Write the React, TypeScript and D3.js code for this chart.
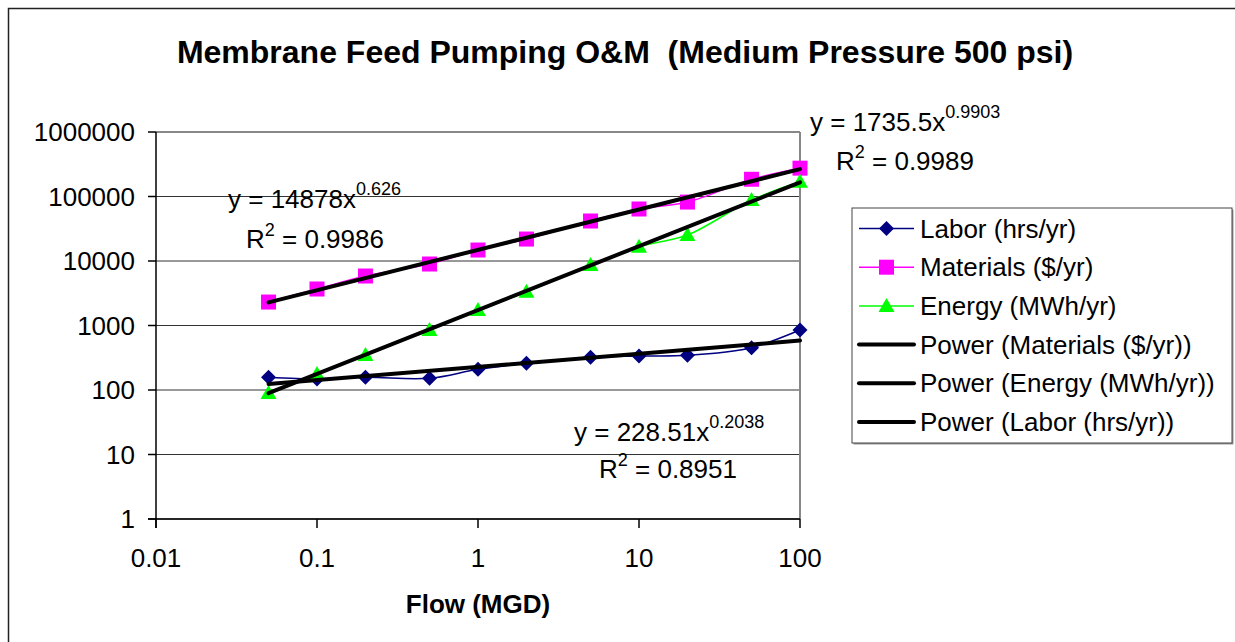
import React from "react";
import * as d3 from "d3";

const flows = [0.05, 0.1, 0.2, 0.5, 1, 2, 5, 10, 20, 50, 100];
const labor = [157, 148, 157, 152, 209, 259, 321, 336, 345, 453, 851];
const materials = [2310, 3680, 5850, 8980, 14800, 21900, 41700, 64000, 82000, 185000, 275000];
const energy = [90, 177, 349, 851, 1740, 3340, 8670, 16700, 25300, 88300, 169000];

const xTicks = [0.01, 0.1, 1, 10, 100];
const xTickLabels = ["0.01", "0.1", "1", "10", "100"];
const yTicks = [1, 10, 100, 1000, 10000, 100000, 1000000];
const yTickLabels = ["1", "10", "100", "1000", "10000", "100000", "1000000"];

const trendNames = ["Power (Materials ($/yr))", "Power (Energy (MWh/yr))", "Power (Labor (hrs/yr))"];
const trendA = [14878, 1735.5, 228.51];
const trendB = [0.626, 0.9903, 0.2038];
const trendR2 = ["0.9986", "0.9989", "0.8951"];
const trendCoefText = ["14878", "1735.5", "228.51"];
const trendExpText = ["0.626", "0.9903", "0.2038"];

const seriesNames = ["Labor (hrs/yr)", "Materials ($/yr)", "Energy (MWh/yr)"];
const seriesColors = ["#000080", "#FF00FF", "#00FF00"];

const FONT = "'Liberation Sans', Arial, sans-serif";

function Marker({ kind, x, y, color }: { kind: number; x: number; y: number; color: string }) {
  if (kind === 0) {
    const s = 7.5;
    return <path d={`M${x},${y - s}L${x + s},${y}L${x},${y + s}L${x - s},${y}Z`} fill={color} />;
  }
  if (kind === 1) {
    const s = 7.5;
    return <rect x={x - s} y={y - s} width={2 * s} height={2 * s} fill={color} />;
  }
  const s = 8;
  return <path d={`M${x},${y - s}L${x + s},${y + s * 0.75}L${x - s},${y + s * 0.75}Z`} fill={color} />;
}

export default function App() {
  const W = 1235, H = 642;
  const left = 156, right = 800, top = 132, bottom = 519;
  const x = d3.scaleLog().domain([0.01, 100]).range([left, right]);
  const y = d3.scaleLog().domain([1, 1000000]).range([bottom, top]);

  const series = [labor, materials, energy];
  const line = d3
    .line<number>()
    .x((_, i) => x(flows[i]))
    .y((d) => y(d))
    .curve(d3.curveCatmullRom.alpha(0.5));

  const trendLines = trendA.map((a, k) => {
    const b = trendB[k];
    const x0 = flows[0], x1 = flows[flows.length - 1];
    return { x0: x(x0), y0: y(a * Math.pow(x0, b)), x1: x(x1), y1: y(a * Math.pow(x1, b)) };
  });

  const labelPos = [
    { ex: 228, ey: 208, rx: 246, ry: 248 },
    { ex: 810, ey: 131, rx: 836, ry: 170 },
    { ex: 574, ey: 441, rx: 599, ry: 478 },
  ];

  const legendX = 852, legendY = 208, legendW = 380, legendH = 235;
  const rowY = (i: number) => 228.5 + i * 38.7;

  return (
    <div style={{ position: "fixed", left: 0, top: 0, width: W, height: H, background: "#fff" }}>
      <svg width={W} height={H} style={{ display: "block" }} fontFamily={FONT}>
        <rect x={0} y={0} width={W} height={H} fill="#fff" />
        <rect x={8.5} y={8.5} width={W + 20} height={H + 20} fill="none" stroke="#222" strokeWidth={1.5} />

        <text x={625} y={63} textAnchor="middle" fontSize={32} fontWeight="bold" fill="#000" style={{ whiteSpace: "pre" }}>
          {"Membrane Feed Pumping O&M\u00A0\u00A0(Medium Pressure 500 psi)"}
        </text>

        {yTicks.map((t) => (
          <line key={"g" + t} x1={left} x2={right} y1={y(t)} y2={y(t)} stroke="#333" strokeWidth={1} />
        ))}
        <line x1={left} x2={right} y1={top} y2={top} stroke="#888" strokeWidth={2} />
        <line x1={right} x2={right} y1={top} y2={bottom} stroke="#888" strokeWidth={2} />
        <line x1={left} x2={left} y1={top} y2={bottom + 9} stroke="#000" strokeWidth={1.5} />
        <line x1={left - 8} x2={right} y1={bottom} y2={bottom} stroke="#000" strokeWidth={1.5} />
        {yTicks.map((t, i) => (
          <g key={"yt" + t}>
            <line x1={left - 8} x2={left} y1={y(t)} y2={y(t)} stroke="#000" strokeWidth={1.5} />
            <text x={135} y={y(t) + 9} textAnchor="end" fontSize={26} fill="#000">
              {yTickLabels[i]}
            </text>
          </g>
        ))}
        {xTicks.map((t, i) => (
          <g key={"xt" + t}>
            <line x1={x(t)} x2={x(t)} y1={bottom} y2={bottom + 9} stroke="#000" strokeWidth={1.5} />
            <text x={x(t)} y={567} textAnchor="middle" fontSize={26} fill="#000">
              {xTickLabels[i]}
            </text>
          </g>
        ))}
        <text x={478} y={613} textAnchor="middle" fontSize={26} fontWeight="bold" fill="#000">
          Flow (MGD)
        </text>

        {series.map((s, k) => (
          <g key={"s" + k}>
            <path d={line(s) || ""} fill="none" stroke={seriesColors[k]} strokeWidth={1.5} />
            {s.map((v, i) => (
              <Marker key={i} kind={k} x={x(flows[i])} y={y(v)} color={seriesColors[k]} />
            ))}
          </g>
        ))}

        {trendLines.map((t, k) => (
          <line key={"t" + k} x1={t.x0} y1={t.y0} x2={t.x1} y2={t.y1} stroke="#000" strokeWidth={4} strokeLinecap="round" />
        ))}

        {labelPos.map((p, k) => (
          <g key={"l" + k} fontSize={26} fill="#000">
            <text x={p.ex} y={p.ey}>
              {"y = " + trendCoefText[k] + "x"}
              <tspan dy={-13} fontSize={18}>
                {trendExpText[k]}
              </tspan>
            </text>
            <text x={p.rx} y={p.ry}>
              R
              <tspan dy={-12} fontSize={18}>
                2
              </tspan>
              <tspan dy={12}>{" = " + trendR2[k]}</tspan>
            </text>
          </g>
        ))}

        <rect x={legendX + 1.5} y={legendY + 1.5} width={legendW} height={legendH} fill="#999" />
        <rect x={legendX} y={legendY} width={legendW} height={legendH} fill="#fff" stroke="#444" strokeWidth={1} />
        {seriesNames.map((n, i) => (
          <g key={"lg" + i}>
            <line x1={859} x2={914} y1={rowY(i)} y2={rowY(i)} stroke={seriesColors[i]} strokeWidth={1.5} />
            <Marker kind={i} x={886.5} y={rowY(i)} color={seriesColors[i]} />
            <text x={920} y={rowY(i) + 9} fontSize={26} fill="#000">
              {n}
            </text>
          </g>
        ))}
        {trendNames.map((n, j) => {
          const i = j + 3;
          return (
            <g key={"lt" + j}>
              <line x1={859} x2={914} y1={rowY(i)} y2={rowY(i)} stroke="#000" strokeWidth={4} strokeLinecap="round" />
              <text x={920} y={rowY(i) + 9} fontSize={26} fill="#000">
                {n}
              </text>
            </g>
          );
        })}
      </svg>
    </div>
  );
}
